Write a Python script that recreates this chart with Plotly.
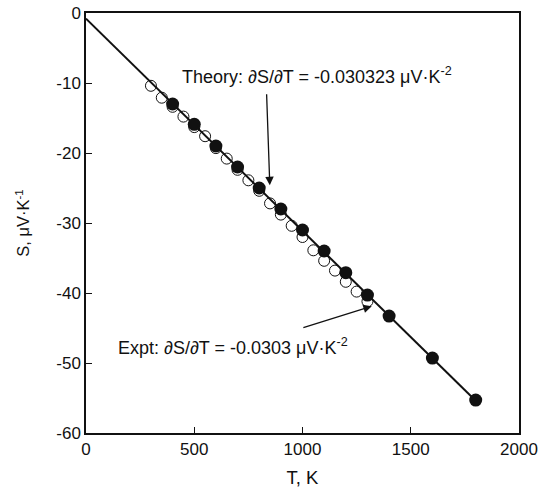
import plotly.graph_objects as go

# Data
theory_T = [400, 500, 600, 700, 800, 900, 1000, 1100, 1200, 1300, 1400, 1600, 1800]
theory_S = [-13.0, -15.9, -19.0, -22.0, -25.0, -28.0, -31.0, -34.0, -37.1, -40.3, -43.3, -49.3, -55.3]

expt_T = [300, 350, 400, 450, 500, 550, 600, 650, 700, 750, 800, 850, 900, 950, 1000,
          1050, 1100, 1150, 1200, 1250, 1300]
expt_S = [-10.4, -12.1, -13.4, -14.8, -16.3, -17.6, -19.3, -20.8, -22.4, -23.9, -25.4,
          -27.2, -28.8, -30.4, -32.0, -33.9, -35.4, -36.8, -38.4, -39.8, -41.2]

fit_T = [0, 1800]
fit_S = [-0.8, -55.4]

x_ticks = [0, 500, 1000, 1500, 2000]
y_ticks = [0, -10, -20, -30, -40, -50, -60]

FONT = "Liberation Sans, Arial, Helvetica, sans-serif"

fig = go.Figure()
fig.add_trace(go.Scatter(x=expt_T, y=expt_S, mode="markers",
                         marker=dict(symbol="circle", size=11, color="white",
                                     line=dict(color="#111", width=1)),
                         showlegend=False, hoverinfo="skip"))
fig.add_trace(go.Scatter(x=fit_T, y=fit_S, mode="lines",
                         line=dict(color="#111", width=2),
                         showlegend=False, hoverinfo="skip"))
fig.add_trace(go.Scatter(x=theory_T, y=theory_S, mode="markers",
                         marker=dict(symbol="circle", size=13, color="#111",
                                     line=dict(color="#111", width=0)),
                         showlegend=False, hoverinfo="skip"))

# Text labels
fig.add_annotation(x=438, y=-8.9, xref="x", yref="y", xanchor="left", yanchor="middle",
                   text="Theory: ∂S/∂T = -0.030323 μV·K<sup>-2</sup>", showarrow=False,
                   borderpad=0, font=dict(family=FONT, size=18, color="#111"))
fig.add_annotation(x=143, y=-47.7, xref="x", yref="y", xanchor="left", yanchor="middle",
                   text="Expt: ∂S/∂T = -0.0303 μV·K<sup>-2</sup>", showarrow=False,
                   borderpad=0, font=dict(family=FONT, size=18, color="#111"))
# Arrows
fig.add_annotation(x=849, y=-24.6, ax=834, ay=-11.4, xref="x", yref="y",
                   axref="x", ayref="y", text="", showarrow=True,
                   arrowhead=2, arrowsize=1.3, arrowwidth=1.3, arrowcolor="#111")
fig.add_annotation(x=1320, y=-41.9, ax=997, ay=-45.0, xref="x", yref="y",
                   axref="x", ayref="y", text="", showarrow=True,
                   arrowhead=2, arrowsize=1.3, arrowwidth=1.3, arrowcolor="#111")

axis_common = dict(showgrid=False, zeroline=False, showline=True, linecolor="#111",
                   linewidth=1.5, mirror=True, ticks="inside", ticklen=6,
                   tickcolor="#111", tickwidth=1, automargin=False,
                   ticklabeloverflow="allow",
                   tickfont=dict(family=FONT, size=17, color="#111"))

fig.update_xaxes(range=[0, 2000], tickvals=x_ticks, ticktext=[str(v) for v in x_ticks],
                 title=dict(text="T, K", font=dict(family=FONT, size=18.5, color="#111"),
                            standoff=13),
                 **axis_common)
fig.update_yaxes(range=[-60, 0], tickvals=y_ticks, ticktext=[str(v) for v in y_ticks],
                 title=dict(text="S, μV·K<sup>-1</sup>",
                            font=dict(family=FONT, size=16.5, color="#111"), standoff=22),
                 **axis_common)

fig.update_layout(width=545, height=489, margin=dict(l=86, r=26, t=13, b=56),
                  plot_bgcolor="white", paper_bgcolor="white",
                  font=dict(family=FONT, color="#111"))

# Remove the default 8px body margin so the figure fills the window exactly
fig.write_html("out.html", config={"displayModeBar": False},
               post_script="document.body.style.margin='0';document.body.style.overflow='hidden';")
